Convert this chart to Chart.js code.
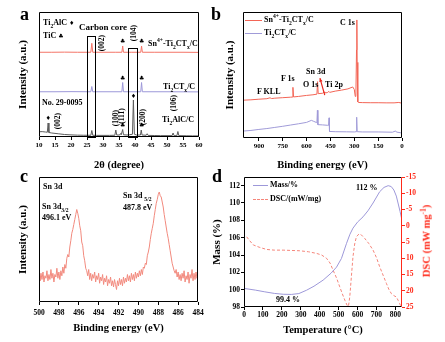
<!DOCTYPE html>
<html>
<head>
<meta charset="utf-8">
<script src="https://cdn.jsdelivr.net/npm/chart.js"></script>
<style>
  body { margin:0; width:445px; height:342px; background:#fff; position:relative; overflow:hidden;
         font-family:"Liberation Serif","Times New Roman",serif; font-weight:bold; color:#000; }
  canvas { position:absolute; }
  .t { position:absolute; font-size:8px; line-height:1; white-space:nowrap; transform:translateY(-50%); }
  .v { position:absolute; font-size:7.5px; line-height:1; white-space:nowrap; transform:translate(-50%,-50%) rotate(-90deg); }
  .s { position:absolute; font-family:"DejaVu Sans",sans-serif; font-size:6px; line-height:1; transform:translate(-50%,-50%); }
  .L { position:absolute; font-size:18px; line-height:1; }
  .ln { position:absolute; height:0; }
  sub, sup { font-size:70%; line-height:0; }
</style>
</head>
<body>
<canvas id="ca" width="222" height="172" style="left:0;top:0"></canvas>
<canvas id="cb" width="223" height="172" style="left:222px;top:0"></canvas>
<canvas id="cc" width="222" height="172" style="left:0;top:170px"></canvas>
<canvas id="cd" width="240" height="172" style="left:205px;top:170px"></canvas>

<!-- panel letters -->
<div class="L" style="left:20px;top:5px">a</div>
<div class="L" style="left:211px;top:5px">b</div>
<div class="L" style="left:20px;top:167px">c</div>
<div class="L" style="left:212px;top:167px">d</div>

<!-- panel a labels -->
<div class="t" style="left:43px;top:23px">Ti<sub>2</sub>AlC <span style="font-family:'DejaVu Sans';font-size:6px">♦</span></div>
<div class="t" style="left:43px;top:36px">TiC <span style="font-family:'DejaVu Sans';font-size:6px">♣</span></div>
<div class="t" style="left:79px;top:27px;font-size:9px">Carbon core</div>
<div class="v" style="left:101.5px;top:43px">(002)</div>
<div class="v" style="left:133.5px;top:33px">(104)</div>
<div class="t" style="left:148px;top:44px">Sn<sup>4+</sup>-Ti<sub>2</sub>CT<sub>x</sub>/C</div>
<div class="t" style="left:163px;top:87px">Ti<sub>2</sub>CT<sub>x</sub>/C</div>
<div class="t" style="left:42px;top:103px">No. 29-0095</div>
<div class="t" style="left:162px;top:120px">Ti<sub>2</sub>AlC/C</div>
<div class="v" style="left:57.5px;top:121px">(002)</div>
<div class="v" style="left:115.5px;top:118px">(100)</div>
<div class="v" style="left:121.5px;top:116px">(111)</div>
<div class="v" style="left:142.5px;top:117px">(200)</div>
<div class="v" style="left:174px;top:103px">(106)</div>
<div class="s" style="left:122.7px;top:41px">♣</div>
<div class="s" style="left:141.6px;top:41px">♣</div>
<div class="s" style="left:122.7px;top:78px">♣</div>
<div class="s" style="left:141.6px;top:78px">♣</div>
<div class="s" style="left:122.7px;top:125px">♣</div>
<div class="s" style="left:141.6px;top:125px">♣</div>
<div class="s" style="left:133.4px;top:96px">♦</div>
<div class="s" style="left:48.1px;top:118px">♦</div>

<!-- panel b labels -->
<div class="ln" style="left:245px;top:20px;width:17px;border-top:1px solid #f36556"></div>
<div class="ln" style="left:245px;top:33px;width:17px;border-top:1px solid #a09bd8"></div>
<div class="t" style="left:264px;top:20px">Sn<sup>4+</sup>-Ti<sub>2</sub>CT<sub>x</sub>/C</div>
<div class="t" style="left:264px;top:33px">Ti<sub>2</sub>CT<sub>x</sub>/C</div>
<div class="t" style="left:340px;top:23px">C 1s</div>
<div class="t" style="left:281px;top:79px">F 1s</div>
<div class="t" style="left:257px;top:92px">F KLL</div>
<div class="t" style="left:306px;top:72px">Sn 3d</div>
<div class="t" style="left:303px;top:85px">O 1s</div>
<div class="t" style="left:325px;top:85px">Ti 2p</div>

<!-- panel c labels -->
<div class="t" style="left:43px;top:187px">Sn 3d</div>
<div class="t" style="left:42px;top:207px">Sn 3d<sub>3/2</sub></div>
<div class="t" style="left:42px;top:218px">496.1 eV</div>
<div class="t" style="left:123px;top:196px">Sn 3d <sub>5/2</sub></div>
<div class="t" style="left:123px;top:208px">487.8 eV</div>

<!-- panel d labels -->
<div class="ln" style="left:253px;top:185px;width:15px;border-top:1px solid #9d98d9"></div>
<div class="ln" style="left:253px;top:199px;width:15px;border-top:1px dashed #f5857a"></div>
<div class="t" style="left:270px;top:185px">Mass/%</div>
<div class="t" style="left:270px;top:199px">DSC/(mW/mg)</div>
<div class="t" style="left:356px;top:188px">112 %</div>
<div class="t" style="left:276px;top:300px">99.4 %</div>
<div class="v" style="left:427px;top:241px;font-size:10.5px;color:#ff2a1a">DSC (mW mg<sup>-1</sup>)</div>

<script>
// ---- panel a: XRD, [2theta, offset intensity]
const xrdTi2AlC = [[10,4.2],[11,4.3],[12,4.0],[12.6,3.8],[12.85,11.2],[13.1,3.6],[14,3.2],[16,2.6],[18,2.0],[20,1.7],
  [22,1.5],[24,1.4],[26.2,1.4],[26.5,5.2],[26.8,1.4],[28,1.3],[30,1.3],[32,1.3],[33.7,1.4],[34.0,5.6],[34.3,1.6],
  [35.2,1.6],[35.5,2.8],[35.7,1.8],[35.9,1.8],[36.15,6.0],[36.4,1.8],[37.5,1.6],[38.2,1.8],[39.2,2.2],[39.5,29.6],
  [39.8,2.2],[40.5,1.6],[41.7,1.6],[41.95,5.6],[42.2,1.6],[43.5,1.4],[43.8,2.6],[44.1,1.3],[46,1.2],[48,1.1],[50,1.1],
  [51.6,1.1],[51.9,3.2],[52.2,1.1],[53.1,1.1],[53.4,4.4],[53.7,1.1],[56,1.0],[58,0.9],[60,0.9]];
const xrdTi2CTx = [[10,36.2],[15,36.2],[20,36.3],[26.2,36.2],[26.5,40.4],[26.8,36.2],[30,36.2],[35.9,36.2],[36.15,43.6],
  [36.4,36.2],[40,36.2],[41.8,36.2],[42.05,43.6],[42.3,36.2],[50,36.2],[60,36.1]];
const xrdSnTi2CTx = [[10,67.8],[14,67.8],[18,67.9],[22,67.8],[26.2,67.8],[26.5,75.0],[26.8,67.8],[30,67.8],[34,67.8],
  [35.9,67.8],[36.15,72.8],[36.4,67.8],[39,67.8],[41.8,67.8],[42.05,72.8],[42.3,67.8],[46,67.8],[50,67.8],[55,67.8],[60,67.7]];
const xrdBoxes = [[25.1, 27.5, 0.4, 80.6], [37.9, 40.5, 0.4, 71.2]];  // [x0, x1, y0, y1]

// ---- panel b: XPS survey, [eV, intensity]
const surveySn = [[1000,30.0],[950,30.3],[900,30.8],[850,31.2],[830,31.9],[820,31.3],[800,31.6],[750,32.0],[700,32.4],
  [690,32.5],[686,40.2],[682,32.6],[650,33.0],[600,33.8],[560,34.3],[535,34.8],[531,44.7],[527,35.2],[500,35.5],
  [490,36.6],[486,35.8],[470,36.0],[460,37.0],[455,36.2],[420,37.2],[380,38.0],[340,39.0],[310,40.5],[300,38.5],
  [294,33.0],[290,33.5],[286,70],[284,93.7],[282,60],[278,28.6],[274,28.2],[250,28.1],[200,28.0],[150,28.0],
  [100,27.9],[50,27.9],[20,28.2],[0,27.6]];
const surveyTi2CTx = [[1000,5.5],[950,6.0],[900,6.8],[850,7.5],[800,8.4],[750,9.3],[700,10.3],[650,11.3],[600,12.4],
  [570,14.0],[555,13.2],[540,12.4],[535,12.8],[532,22.0],[529,10.6],[500,10.4],[470,10.1],[462,10.0],[459,16.0],
  [456,5.2],[420,5.0],[350,4.9],[300,4.8],[288,5.0],[285,16.5],[282,5.0],[250,4.8],[150,4.8],[60,4.6],[40,5.6],
  [35,4.7],[10,4.2],[0,3.0]];
const surveyArrow = [[486, 34], [516, 47.5]];  // tail, head

// ---- panel c: Sn 3d high resolution
const sn3dEnergy = [
  500.0,499.9,499.8,499.7,499.6,499.5,499.4,499.3,499.2,499.1,
  499.0,498.9,498.8,498.7,498.6,498.5,498.4,498.3,498.2,498.1,
  498.0,497.9,497.8,497.7,497.6,497.5,497.4,497.3,497.2,497.1,
  497.0,496.9,496.8,496.7,496.6,496.5,496.4,496.3,496.2,496.1,
  496.0,495.9,495.8,495.7,495.6,495.5,495.4,495.3,495.2,495.1,
  495.0,494.9,494.8,494.7,494.6,494.5,494.4,494.3,494.2,494.1,
  494.0,493.9,493.8,493.7,493.6,493.5,493.4,493.3,493.2,493.1,
  493.0,492.9,492.8,492.7,492.6,492.5,492.4,492.3,492.2,492.1,
  492.0,491.9,491.8,491.7,491.6,491.5,491.4,491.3,491.2,491.1,
  491.0,490.9,490.8,490.7,490.6,490.5,490.4,490.3,490.2,490.1,
  490.0,489.9,489.8,489.7,489.6,489.5,489.4,489.3,489.2,489.1,
  489.0,488.9,488.8,488.7,488.6,488.5,488.4,488.3,488.2,488.1,
  488.0,487.9,487.8,487.7,487.6,487.5,487.4,487.3,487.2,487.1,
  487.0,486.9,486.8,486.7,486.6,486.5,486.4,486.3,486.2,486.1,
  486.0,485.9,485.8,485.7,485.6,485.5,485.4,485.3,485.2,485.1,
  485.0,484.9,484.8,484.7,484.6,484.5,484.4,484.3,484.2,484.1,
  484.0];
const sn3dIntensity = [
  21,17,23,18,24,16,21,19,25,17,
  22,18,26,19,23,16,22,20,27,19,
  24,18,25,21,28,23,30,27,35,38,
  36,44,49,55,58,62,66,70,74,71,
  67,61,57,48,45,37,33,27,25,21,
  26,18,23,17,22,19,24,16,21,18,
  23,15,20,17,22,14,19,16,21,13,
  18,15,20,13,17,12,18,14,10,17,
  13,19,14,18,13,20,15,19,16,22,
  17,21,16,23,18,22,17,24,19,23,
  20,25,21,26,22,28,27,31,30,37,
  40,44,50,55,59,63,69,74,79,82,
  86,88,85,84,80,76,70,65,60,55,
  51,46,41,36,31,28,25,23,26,20,
  24,18,22,17,23,19,25,16,21,18,
  24,15,22,19,26,17,23,18,24,19,
  22];

// ---- panel d: TG / DSC, [T (°C), value]
const tgaMass = [[5,100.13],[60,99.95],[110,99.75],[160,99.57],[207,99.47],[250,99.45],[290,99.55],[331,99.94],
  [370,100.4],[418,101.1],[460,101.9],[489,102.6],[515,103.6],[542,105.35],[560,106.4],[576,107.1],[600,107.8],
  [629,108.4],[655,109.1],[682,110.0],[717,111.3],[740,111.8],[762,112.0],[778,111.9],[792,111.5],[805,110.8],
  [814,110.0],[825,109.0],[835,108.0]];
const dscHeat = [[14,3.4],[30,4.6],[49,5.9],[80,6.6],[120,7.3],[160,7.5],[207,7.5],[250,7.6],[295,7.7],[340,8.0],
  [383,8.5],[410,9.0],[436,10.0],[455,11.5],[471,13.7],[490,16.2],[506,18.8],[520,21.0],[533,22.9],[545,24.5],
  [552,24.8],[559,21.9],[567,16],[576,9.5],[585,5.6],[594,3.4],[608,2.5],[620,2.8],[638,3.9],[660,5.5],[682,7.5],
  [700,9.8],[717,12.6],[735,15.2],[753,17.8],[765,19.5],[779,20.9],[792,21.5],[805,21.9],[815,23],[823,24],[835,25.5]];

Chart.defaults.font.family = '"Liberation Serif", "Times New Roman", serif';
Chart.defaults.font.weight = 'bold';
Chart.defaults.color = '#000';

const f = size => ({ size: size, weight: 'bold' });
const pts = arr => arr.map(p => ({ x: p[0], y: p[1] }));
const line = (arr, color, extra) => Object.assign({ data: pts(arr), borderColor: color, borderWidth: 1,
  pointRadius: 0, tension: 0, fill: false }, extra || {});

// box round the plot area, one colour per side
const frame = {
  id: 'frame',
  afterDraw(chart, args, o) {
    const { ctx, chartArea: a } = chart;
    const L = Math.round(a.left) + 0.5, R = Math.round(a.right) - 0.5;
    const T = Math.round(a.top) + 0.5, B = Math.round(a.bottom) - 0.5;
    const seg = (c, x0, y0, x1, y1) => { ctx.strokeStyle = c; ctx.beginPath(); ctx.moveTo(x0, y0); ctx.lineTo(x1, y1); ctx.stroke(); };
    ctx.save();
    ctx.lineWidth = 1;
    seg('#000', L, T, R, T);
    seg('#000', L, B, R, B);
    seg('#000', L, T, L, B);
    seg(o.right || '#000', R, T, R, B);
    ctx.restore();
  }
};

const boxes = {
  id: 'boxes',
  afterDatasetsDraw(chart) {
    const { ctx, scales: { x, y } } = chart;
    ctx.save();
    ctx.strokeStyle = '#000';
    ctx.lineWidth = 1;
    xrdBoxes.forEach(b => {
      const x0 = Math.round(x.getPixelForValue(b[0])) + 0.5, x1 = Math.round(x.getPixelForValue(b[1])) + 0.5;
      const y0 = Math.round(y.getPixelForValue(b[2])) + 0.5, y1 = Math.round(y.getPixelForValue(b[3])) + 0.5;
      ctx.strokeRect(x0, y1, x1 - x0, y0 - y1);
    });
    ctx.restore();
  }
};

const arrow = {
  id: 'arrow',
  afterDatasetsDraw(chart) {
    const { ctx, scales: { x, y } } = chart;
    const x0 = x.getPixelForValue(surveyArrow[0][0]), y0 = y.getPixelForValue(surveyArrow[0][1]);
    const x1 = x.getPixelForValue(surveyArrow[1][0]), y1 = y.getPixelForValue(surveyArrow[1][1]);
    const ang = Math.atan2(y1 - y0, x1 - x0);
    ctx.save();
    ctx.strokeStyle = ctx.fillStyle = '#e8261c';
    ctx.lineWidth = 1.2;
    ctx.beginPath(); ctx.moveTo(x0, y0); ctx.lineTo(x1, y1); ctx.stroke();
    ctx.beginPath();
    ctx.moveTo(x1, y1);
    ctx.lineTo(x1 - 4 * Math.cos(ang - 0.45), y1 - 4 * Math.sin(ang - 0.45));
    ctx.lineTo(x1 - 4 * Math.cos(ang + 0.45), y1 - 4 * Math.sin(ang + 0.45));
    ctx.closePath(); ctx.fill();
    ctx.restore();
  }
};

function opts(padding, scales, frameOpts) {
  return {
    responsive: false, animation: false, devicePixelRatio: 1,
    layout: { padding: padding },
    plugins: { legend: { display: false }, tooltip: { enabled: false }, frame: frameOpts || {} },
    scales: scales
  };
}

function xAxis(min, max, step, reverse, title, height, tickSize, tickPad, titlePad) {
  return {
    type: 'linear', min: min, max: max, reverse: reverse,
    ticks: { stepSize: step, includeBounds: false, font: f(tickSize), padding: tickPad, maxRotation: 0 },
    grid: { drawOnChartArea: false, tickLength: 3, color: '#000' },
    border: { display: false },
    title: { display: true, text: title, font: f(10.5), padding: { bottom: titlePad } },
    afterFit: s => { s.height = height; }
  };
}

function hiddenY(title, width, pad) {
  return {
    min: 0, max: 100,
    ticks: { display: false }, grid: { display: false }, border: { display: false },
    title: { display: true, text: title, font: f(11), padding: { top: pad } },
    afterFit: s => { s.width = width; }
  };
}

// a
new Chart(document.getElementById('ca'), {
  type: 'line',
  data: { datasets: [
    line(xrdTi2AlC, '#5c5c5c'),
    line(xrdTi2CTx, '#9d98d9'),
    line(xrdSnTi2CTx, '#f47467')
  ] },
  options: opts({ top: 12, right: 23, left: 0, bottom: 0 }, {
    x: xAxis(10, 60, 5, false, '2θ (degree)', 35, 7, 1, 0),
    y: hiddenY('Intensity (a.u.)', 39, 17)
  }),
  plugins: [frame, boxes]
});

// b
new Chart(document.getElementById('cb'), {
  type: 'line',
  data: { datasets: [
    line(surveyTi2CTx, '#a09bd8'),
    line(surveySn, '#f36556')
  ] },
  options: opts({ top: 12, right: 43, left: 0, bottom: 0 }, {
    x: xAxis(0, 1000, 150, true, 'Binding energy (eV)', 34, 7, 1, 0),
    y: hiddenY('Intensity (a.u.)', 21, 1.5)
  }),
  plugins: [frame, arrow]
});

// c
new Chart(document.getElementById('cc'), {
  type: 'line',
  data: { datasets: [
    line(sn3dEnergy.map((e, i) => [e, sn3dIntensity[i]]), '#f28a7e')
  ] },
  options: opts({ top: 7, right: 24, left: 0, bottom: 0 }, {
    x: xAxis(484, 500, 2, true, 'Binding energy (eV)', 40, 7.5, 4, 7.5),
    y: hiddenY('Intensity (a.u.)', 39, 17)
  }),
  plugins: [frame]
});

// d
new Chart(document.getElementById('cd'), {
  type: 'line',
  data: { datasets: [
    line(tgaMass, '#9d98d9', { yAxisID: 'y' }),
    line(dscHeat, '#f5857a', { yAxisID: 'y2', borderDash: [3, 2] })
  ] },
  options: opts({ top: 7, right: 0, left: 0, bottom: 0 }, {
    x: xAxis(0, 835, 100, false, 'Temperature (°C)', 35, 7.5, 1, 5.5),
    y: {
      position: 'left', min: 98, max: 113,
      ticks: { stepSize: 2, includeBounds: false, font: f(7.5), padding: 1 },
      grid: { drawOnChartArea: false, tickLength: 3, color: '#000' },
      border: { display: false },
      title: { display: true, text: 'Mass (%)', font: f(11), padding: { top: 5.5 } },
      afterFit: s => { s.width = 39; }
    },
    y2: {
      position: 'right', min: -15, max: 25, reverse: true,
      ticks: { stepSize: 5, font: f(7.5), padding: 1, color: '#ff2a1a' },
      grid: { drawOnChartArea: false, tickLength: 3, color: '#ff2a1a' },
      border: { display: false },
      afterFit: s => { s.width = 43; }
    }
  }, { right: '#ff2a1a' }),
  plugins: [frame]
});
</script>
</body>
</html>
